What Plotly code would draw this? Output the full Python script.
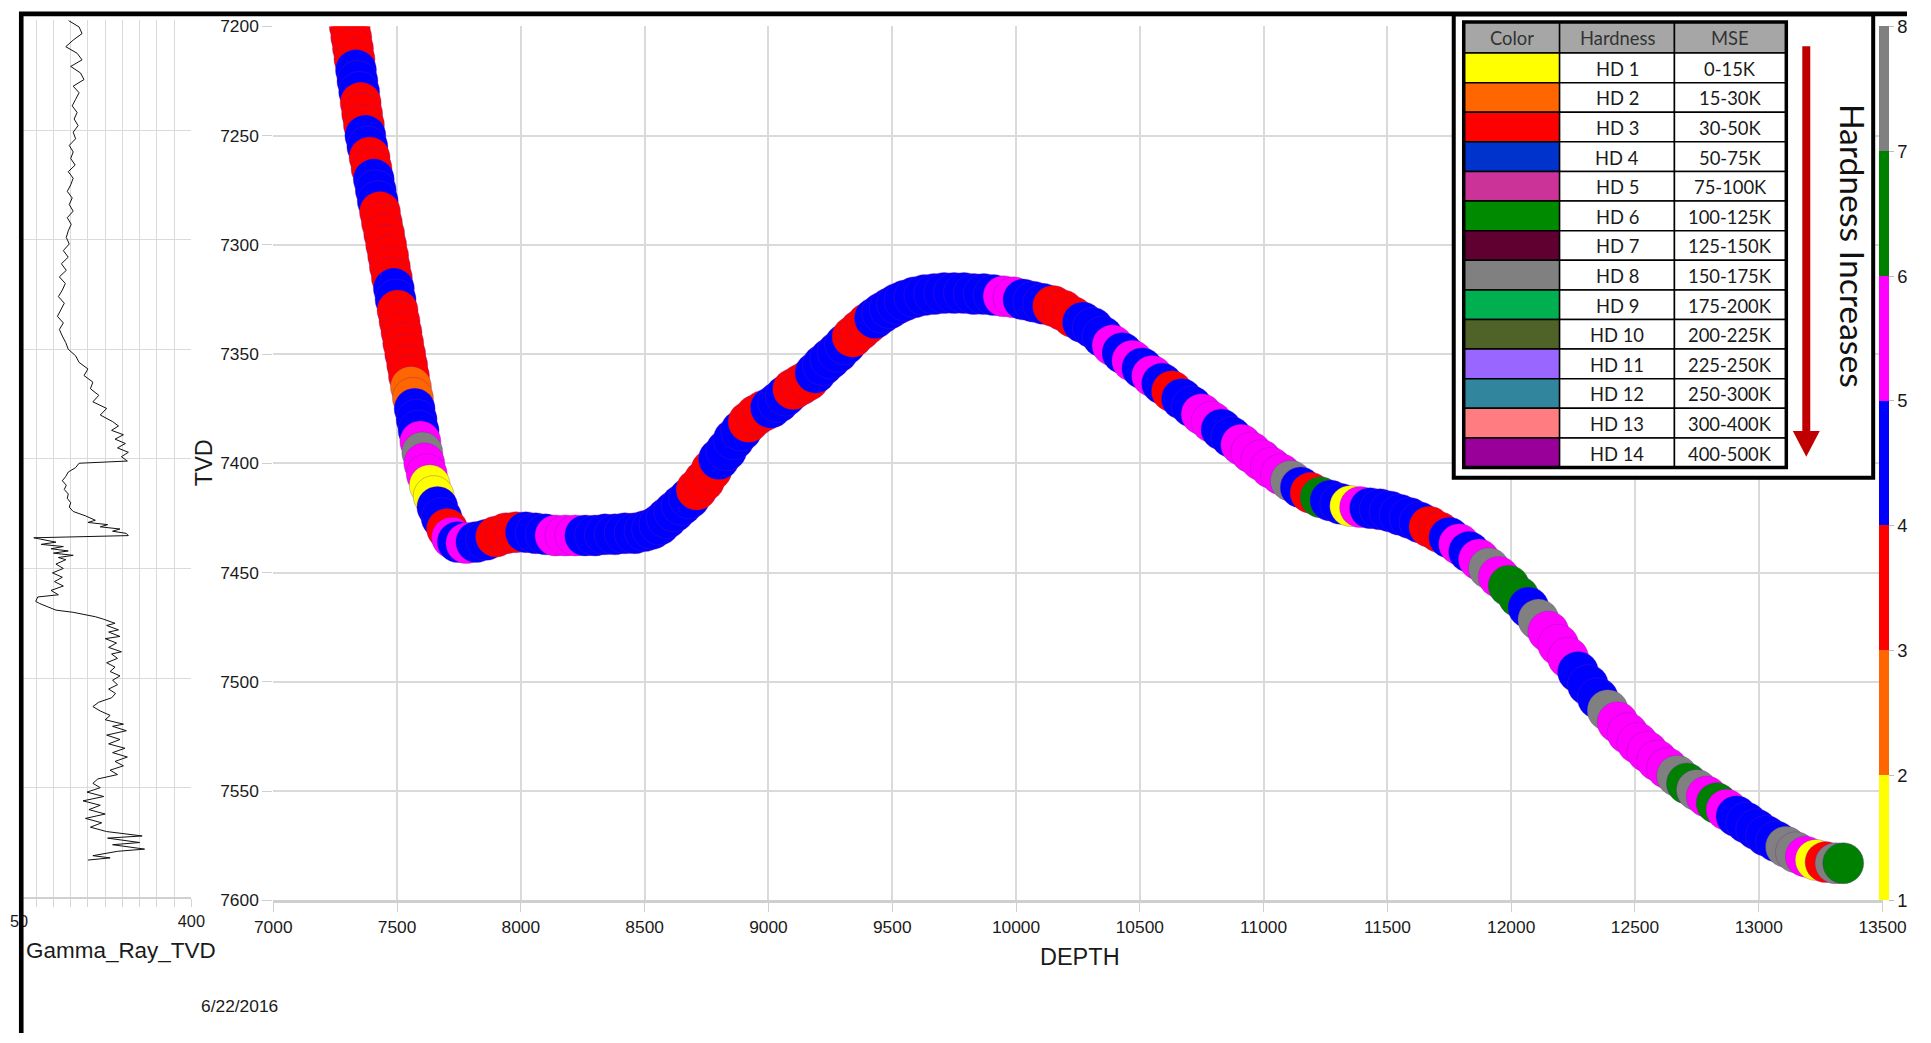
import plotly.graph_objects as go

W, H = 1931, 1043

# The page photo shows the canvas slightly shrunk and shifted; these constants map a
# target position in the final picture back to a canvas position.
OFF_X, SC_X, OFF_Y, SC_Y = 18.4, 0.979, 8.6, 0.982
K = 1 / SC_X


def fx(x):
    return (x - OFF_X) / SC_X


def px(x):
    return fx(x) / W


def py(y):
    return 1 - ((y - OFF_Y) / SC_Y) / H


# ---------------- data ----------------
# build section (steep part of the wellbore)
DEPTH_BUILD = [7290, 7296, 7303, 7309, 7315, 7322, 7328, 7334, 7340, 7347,
               7353, 7359, 7366, 7372, 7380, 7389, 7397, 7406, 7414, 7422,
               7431, 7439, 7448, 7456, 7464, 7471, 7479, 7487, 7494, 7502,
               7510, 7518, 7525, 7533, 7541, 7548, 7556, 7564, 7571, 7579,
               7587, 7594, 7602, 7610, 7620, 7632, 7648, 7663, 7680, 7702,
               7722, 7745]
TVD_BUILD = [7185, 7190, 7195, 7200, 7205, 7210, 7215, 7220, 7225, 7230,
             7235, 7240, 7245, 7250, 7255, 7260, 7265, 7270, 7275, 7280,
             7285, 7290, 7295, 7300, 7305, 7310, 7315, 7320, 7325, 7330,
             7335, 7340, 7345, 7350, 7355, 7360, 7365, 7370, 7375, 7380,
             7385, 7390, 7395, 7400, 7405, 7410, 7415, 7420, 7425, 7430,
             7434, 7436]
HARD_BUILD = [3.5, 3.5, 3.5, 3.5, 3.5, 3.5, 3.5, 4.5, 4.5, 4.5,
              3.5, 3.5, 3.5, 4.5, 4.5, 3.5, 3.5, 4.5, 4.5, 4.5,
              3.5, 3.5, 3.5, 3.5, 3.5, 3.5, 3.5, 4.5, 4.5, 3.5,
              3.5, 3.5, 3.5, 3.5, 3.5, 3.5, 2.5, 2.5, 4.5, 4.5,
              4.5, 5.5, 7.5, 5.5, 5.5, 1.5, 1.5, 4.5, 4.5, 3.5,
              5.5, 4.5]

# lateral section
DEPTH_LAT = [7780, 7820, 7860, 7900, 7940, 7980, 8020, 8060, 8100, 8140,
             8180, 8220, 8260, 8300, 8340, 8380, 8420, 8460, 8500, 8530,
             8560, 8590, 8620, 8650, 8680, 8710, 8740, 8770, 8800, 8830,
             8860, 8890, 8920, 8950, 8980, 9010, 9040, 9070, 9100, 9130,
             9160, 9190, 9220, 9250, 9280, 9310, 9340, 9370, 9400, 9430,
             9460, 9490, 9520, 9550, 9590, 9630, 9670, 9710, 9750, 9790,
             9830, 9870, 9910, 9950, 9990, 10030, 10070, 10110, 10150, 10190,
             10230, 10270, 10310, 10350, 10390, 10430, 10470, 10510, 10550, 10590,
             10630, 10670, 10710, 10750, 10790, 10830, 10870, 10910, 10950, 10990,
             11030, 11070, 11110, 11150, 11190, 11230, 11270, 11310, 11350, 11390,
             11430, 11470, 11510, 11550, 11590, 11630, 11670, 11710, 11750, 11790,
             11830, 11870, 11910, 11950, 11990, 12030, 12070, 12110, 12150, 12190,
             12230, 12270, 12310, 12350, 12390, 12430, 12470, 12510, 12550, 12590,
             12630, 12670, 12710, 12750, 12790, 12830, 12870, 12910, 12950, 12990,
             13030, 13070, 13110, 13150, 13190, 13230, 13270, 13310, 13341]
TVD_LAT = [7436.5, 7436, 7435, 7433.5, 7432, 7431.5, 7431.5, 7432, 7432.5, 7433,
           7433, 7433, 7433, 7433, 7432.5, 7432.5, 7432, 7432, 7431, 7430,
           7428, 7425, 7422, 7419, 7416, 7412, 7408, 7403, 7398, 7394,
           7389, 7385, 7381, 7378, 7376, 7374.5, 7372, 7369, 7366, 7364,
           7362, 7358.5, 7355, 7352, 7349, 7345.5, 7342, 7339, 7336, 7333.5,
           7331, 7329, 7327, 7325.5, 7324, 7323, 7322.5, 7322, 7322, 7322,
           7322.5, 7322.5, 7323, 7323.5, 7324, 7325, 7326, 7327, 7328, 7330,
           7333, 7335.5, 7338, 7342, 7346, 7349.5, 7353, 7356.5, 7360, 7363.5,
           7367, 7370.5, 7374, 7377.5, 7381, 7384.5, 7388, 7391.5, 7395, 7398.5,
           7402, 7405, 7408, 7411, 7413.5, 7415.5, 7417, 7418.5, 7419.5, 7420,
           7420.5, 7421, 7422, 7423.5, 7425, 7427, 7429, 7431.5, 7434, 7437,
           7440.5, 7444, 7448, 7452, 7456, 7461, 7466, 7471.5, 7477, 7483,
           7489, 7495.5, 7501.5, 7507.5, 7513, 7518.5, 7523.5, 7528, 7532, 7536,
           7539.5, 7543, 7546.5, 7549.5, 7552.5, 7555.5, 7558.5, 7561.5, 7564.5, 7567.5,
           7570.5, 7573, 7575.5, 7578, 7580, 7581.5, 7582.5, 7583, 7583]
HARD_LAT = [5.5, 4.5, 4.5, 3.5, 3.5, 3.5, 4.5, 4.5, 4.5, 5.5,
            5.5, 5.5, 4.5, 4.5, 4.5, 4.5, 4.5, 4.5, 4.5, 4.5,
            4.5, 4.5, 4.5, 4.5, 4.5, 3.5, 3.5, 3.5, 4.5, 4.5,
            4.5, 4.5, 3.5, 3.5, 3.5, 4.5, 4.5, 4.5, 3.5, 3.5,
            3.5, 4.5, 4.5, 4.5, 4.5, 4.5, 3.5, 3.5, 3.5, 4.5,
            4.5, 4.5, 4.5, 4.5, 4.5, 4.5, 4.5, 4.5, 4.5, 4.5,
            4.5, 4.5, 4.5, 5.5, 5.5, 4.5, 4.5, 4.5, 3.5, 3.5,
            3.5, 4.5, 4.5, 4.5, 5.5, 4.5, 5.5, 4.5, 5.5, 4.5,
            3.5, 4.5, 4.5, 5.5, 5.5, 4.5, 4.5, 5.5, 5.5, 5.5,
            5.5, 5.5, 7.5, 4.5, 3.5, 6.5, 4.5, 4.5, 1.5, 5.5,
            4.5, 4.5, 4.5, 4.5, 4.5, 4.5, 3.5, 3.5, 4.5, 5.5,
            4.5, 5.5, 7.5, 5.5, 6.5, 6.5, 4.5, 7.5, 5.5, 5.5,
            5.5, 4.5, 4.5, 4.5, 7.5, 5.5, 5.5, 5.5, 5.5, 5.5,
            5.5, 7.5, 6.5, 7.5, 5.5, 6.5, 5.5, 4.5, 4.5, 4.5,
            4.5, 4.5, 7.5, 7.5, 5.5, 1.5, 3.5, 7.5, 6.5]

# gamma ray log (upper and lower parts of the track)
GR_TVD_UP = [7200, 7203, 7206, 7209, 7212, 7215, 7218, 7221, 7224, 7227,
             7230, 7233, 7236, 7239, 7242, 7245, 7248, 7251, 7254, 7257,
             7260, 7263, 7266, 7269, 7272, 7275, 7278, 7281, 7284, 7287,
             7290, 7293, 7296, 7299, 7302, 7305, 7308, 7311, 7314, 7317,
             7320, 7323, 7326, 7329, 7332, 7335, 7338, 7341, 7344, 7347]
GR_API_UP = [150, 172, 178, 160, 145, 168, 178, 155, 175, 182,
             160, 172, 165, 158, 168, 162, 170, 160, 165, 152,
             160, 155, 164, 150, 160, 155, 148, 158, 152, 160,
             148, 156, 150, 146, 152, 140, 150, 136, 146, 132,
             144, 138, 130, 142, 135, 128, 140, 132, 138, 145]
GR_TVD_LOW = [7350, 7353, 7356, 7359, 7362, 7365, 7368, 7371, 7374, 7377,
              7380, 7383, 7385, 7387, 7389, 7391, 7393, 7395, 7397, 7399,
              7401, 7402, 7404, 7406, 7408, 7410, 7412, 7414, 7416, 7418,
              7420, 7422, 7424, 7426, 7428, 7429, 7430, 7431, 7432, 7433,
              7434, 7435, 7436, 7437, 7438, 7439, 7440, 7441, 7442, 7443,
              7444, 7445, 7446, 7448, 7450, 7452, 7454, 7456, 7458, 7460,
              7462, 7463, 7465, 7466, 7467, 7469, 7470, 7471, 7472, 7473,
              7475, 7476, 7478, 7479, 7481, 7482, 7484, 7486, 7488, 7489,
              7491, 7493, 7495, 7497, 7499, 7501, 7503, 7505, 7507, 7509,
              7511, 7513, 7515, 7517, 7519, 7521, 7522, 7524, 7526, 7528,
              7530, 7532, 7534, 7536, 7538, 7540, 7542, 7544, 7546, 7548,
              7550, 7552, 7554, 7556, 7558, 7560, 7562, 7564, 7566, 7568,
              7570, 7572, 7573, 7575, 7576, 7578, 7579, 7581, 7582, 7583]
GR_API_LOW = [150, 165, 172, 190, 182, 200, 195, 212, 200, 228,
              215, 240, 252, 238, 262, 245, 266, 250, 272, 258,
              270, 172, 165, 150, 145, 138, 146, 142, 150, 148,
              155, 152, 160, 185, 205, 190, 230, 215, 255, 240,
              268, 272, 80, 100, 125, 95, 140, 115, 150, 120,
              160, 130, 145, 125, 140, 118, 138, 122, 140, 115,
              130, 88, 84, 92, 103, 125, 160, 185, 205, 220,
              245, 228, 252, 232, 255, 225, 248, 232, 258, 238,
              250, 228, 245, 235, 255, 240, 250, 232, 246, 238,
              212, 200, 215, 235, 225, 262, 240, 268, 228, 255,
              232, 265, 240, 270, 245, 262, 235, 250, 210, 200,
              215, 188, 222, 180, 215, 192, 225, 185, 218, 195,
              228, 300, 230, 295, 240, 305, 250, 200, 235, 190]

GR_TICKVALS = [50, 85, 120, 155, 190, 225, 260, 295, 330, 365, 400]
GR_TICKTEXT = ["50", "", "", "", "", "", "", "", "", "", "400"]
HARD_TICKS = [1, 2, 3, 4, 5, 6, 7, 8]

# legend table
TABLE_HEADER = ["Color", "Hardness", "MSE"]
TABLE_HD = ["HD 1", "HD 2", "HD 3", "HD 4", "HD 5", "HD 6", "HD 7",
            "HD 8", "HD 9", "HD 10", "HD 11", "HD 12", "HD 13", "HD 14"]
TABLE_MSE = ["0-15K", "15-30K", "30-50K", "50-75K", "75-100K", "100-125K",
             "125-150K", "150-175K", "175-200K", "200-225K", "225-250K",
             "250-300K", "300-400K", "400-500K"]
TABLE_COLORS = ["#ffff00", "#ff6600", "#ff0000", "#0033cc", "#cc3399",
                "#008a00", "#600030", "#808080", "#00b050", "#4f6228",
                "#9966ff", "#31859c", "#ff7c80", "#990099"]

assert len(DEPTH_BUILD) == len(TVD_BUILD) == len(HARD_BUILD)
assert len(DEPTH_LAT) == len(TVD_LAT) == len(HARD_LAT)
assert len(GR_TVD_UP) == len(GR_API_UP)
assert len(GR_TVD_LOW) == len(GR_API_LOW)

# ---------------- figure ----------------
CB = ["#ffff00", "#ff6600", "#ff0000", "#0000ff", "#ff00ff", "#008000", "#808080"]
colorscale = []
for i, c in enumerate(CB):
    colorscale.append([i / 7, c])
    colorscale.append([(i + 1) / 7, c])

LABEL = "Liberation Sans, Arial, sans-serif"
TICKFONT = dict(family=LABEL, size=17 * K, color="#1a1a1a")
GRID = "#dadada"

X_RIGHT = 1906 / W          # right end of the depth axis on the canvas
CB_X = 1902 / W             # colour bar left edge on the canvas

fig = go.Figure()

fig.add_trace(go.Scatter(
    x=GR_API_UP + GR_API_LOW, y=GR_TVD_UP + GR_TVD_LOW, mode="lines",
    xaxis="x2", yaxis="y2",
    line=dict(color="#111111", width=1), showlegend=False, hoverinfo="skip"))

fig.add_trace(go.Scatter(
    x=DEPTH_BUILD + DEPTH_LAT, y=TVD_BUILD + TVD_LAT, mode="markers",
    showlegend=False,
    marker=dict(
        size=41, color=HARD_BUILD + HARD_LAT, colorscale=colorscale,
        cmin=1, cmax=8, opacity=1,
        line=dict(width=1, color="rgba(110,30,160,0.3)"),
        colorbar=dict(
            x=CB_X, xanchor="left", xpad=0, ypad=0,
            y=py(25), yanchor="top", lenmode="fraction", len=py(25) - py(900),
            thickness=10, outlinewidth=0, tickvals=HARD_TICKS,
            ticks="outside", ticklen=5, tickcolor="#bdbdbd",
            tickfont=dict(family=LABEL, size=18 * K, color="#1a1a1a"),
        ),
    ),
))

fig.update_layout(
    width=W, height=H, autosize=False,
    margin=dict(l=0, r=0, t=0, b=0, pad=0),
    paper_bgcolor="white", plot_bgcolor="white",
    xaxis=dict(domain=[px(273), X_RIGHT], range=[7000, 13500], dtick=500,
               tick0=7000, tickformat="d", showgrid=True, gridcolor=GRID, gridwidth=1.5,
               zeroline=False, ticks="outside", ticklen=9, tickcolor="#cfcfcf",
               showline=True, linecolor="#cfcfcf", linewidth=2.5,
               tickfont=TICKFONT, anchor="y"),
    yaxis=dict(domain=[py(900), py(25)], range=[7600, 7200], dtick=50,
               tick0=7200, tickformat="d", showgrid=True, gridcolor=GRID, gridwidth=1.5,
               zeroline=False, ticks="outside", ticklen=10, tickcolor="#cfcfcf",
               showline=False, tickfont=TICKFONT, anchor="x"),
    xaxis2=dict(domain=[0, px(191)], range=[50, 400], tickvals=GR_TICKVALS,
                ticktext=GR_TICKTEXT, showgrid=True, gridcolor=GRID, gridwidth=1.2,
                zeroline=False, ticks="outside", ticklen=8, tickcolor="#d5d5d5",
                showline=True, linecolor="#d0d0d0", linewidth=2,
                tickfont=dict(family=LABEL, size=16 * K, color="#1a1a1a"),
                anchor="y2"),
    yaxis2=dict(domain=[py(897), py(19)], range=[7600, 7200], dtick=50, tick0=7200,
                showgrid=True, gridcolor=GRID, gridwidth=1.2, zeroline=False,
                showticklabels=False, ticks="", showline=False, anchor="x2"),
)

shapes = []
annotations = []


def note(x, y, text, size, family=LABEL, angle=0, xanchor="center", color="#1a1a1a",
         canvas_x=None):
    xx = canvas_x if canvas_x is not None else px(x)
    annotations.append(dict(xref="paper", yref="paper", showarrow=False,
                            x=xx, y=py(y), xanchor=xanchor, yanchor="middle",
                            text=text, textangle=angle,
                            font=dict(family=family, size=size * K, color=color)))


# outer figure border (left and top edges)
shapes.append(dict(type="line", xref="paper", yref="paper",
                   x0=2.3 / W, x1=2.3 / W, y0=0, y1=py(10.5),
                   line=dict(color="black", width=4.6)))
shapes.append(dict(type="line", xref="paper", yref="paper",
                   x0=0, x1=1, y0=py(12.5), y1=py(12.5),
                   line=dict(color="black", width=4.6)))

# legend box
shapes.append(dict(type="rect", xref="paper", yref="paper",
                   x0=px(1455), x1=px(1875), y0=py(477), y1=py(13),
                   line=dict(color="black", width=4), fillcolor="white"))

# table
col_x = [1465, 1561, 1676, 1788]
top = 20.7
head_h = 31.0
row_h = 29.64
TFONT = "Lato, Open Sans, sans-serif"
for j in range(3):
    shapes.append(dict(type="rect", xref="paper", yref="paper",
                       x0=px(col_x[j]), x1=px(col_x[j + 1]),
                       y0=py(top + head_h), y1=py(top),
                       line=dict(color="black", width=1.5), fillcolor="#a6a6a6"))
    note((col_x[j] + col_x[j + 1]) / 2, top + head_h / 2, TABLE_HEADER[j], 18,
         family=TFONT, color="#333333")
for i in range(len(TABLE_HD)):
    y0 = top + head_h + i * row_h
    y1 = y0 + row_h
    fills = [TABLE_COLORS[i], "white", "white"]
    for j in range(3):
        shapes.append(dict(type="rect", xref="paper", yref="paper",
                           x0=px(col_x[j]), x1=px(col_x[j + 1]),
                           y0=py(y1), y1=py(y0),
                           line=dict(color="black", width=1.5), fillcolor=fills[j]))
    note((col_x[1] + col_x[2]) / 2, (y0 + y1) / 2 + 1, TABLE_HD[i], 18, family=TFONT)
    note((col_x[2] + col_x[3]) / 2, (y0 + y1) / 2 + 1, TABLE_MSE[i], 18, family=TFONT)
bottom = top + head_h + len(TABLE_HD) * row_h
shapes.append(dict(type="rect", xref="paper", yref="paper",
                   x0=px(col_x[0]), x1=px(col_x[-1]), y0=py(bottom), y1=py(top),
                   line=dict(color="black", width=3.5), fillcolor="rgba(0,0,0,0)"))

# arrow
shapes.append(dict(type="rect", xref="paper", yref="paper",
                   x0=px(1804), x1=px(1812), y0=py(432), y1=py(45),
                   line=dict(width=0), fillcolor="#c00000"))
shapes.append(dict(type="path", xref="paper", yref="paper",
                   path=f"M {px(1794.5)},{py(430)} L {px(1821.5)},{py(430)} L {px(1808)},{py(456)} Z",
                   line=dict(width=0), fillcolor="#c00000"))

note(1855, 245, "Hardness Increases", 33, family=TFONT, angle=90, color="#111111")
note(203, 462, "TVD", 23, angle=-90)
note(1081, 957, "DEPTH", 23)
note(12, 950, "Gamma_Ray_TVD", 22, xanchor="left", canvas_x=5 / W)
note(199, 1006, "6/22/2016", 17, xanchor="left")

fig.update_layout(shapes=shapes, annotations=annotations)

fig.write_html("out.html")
